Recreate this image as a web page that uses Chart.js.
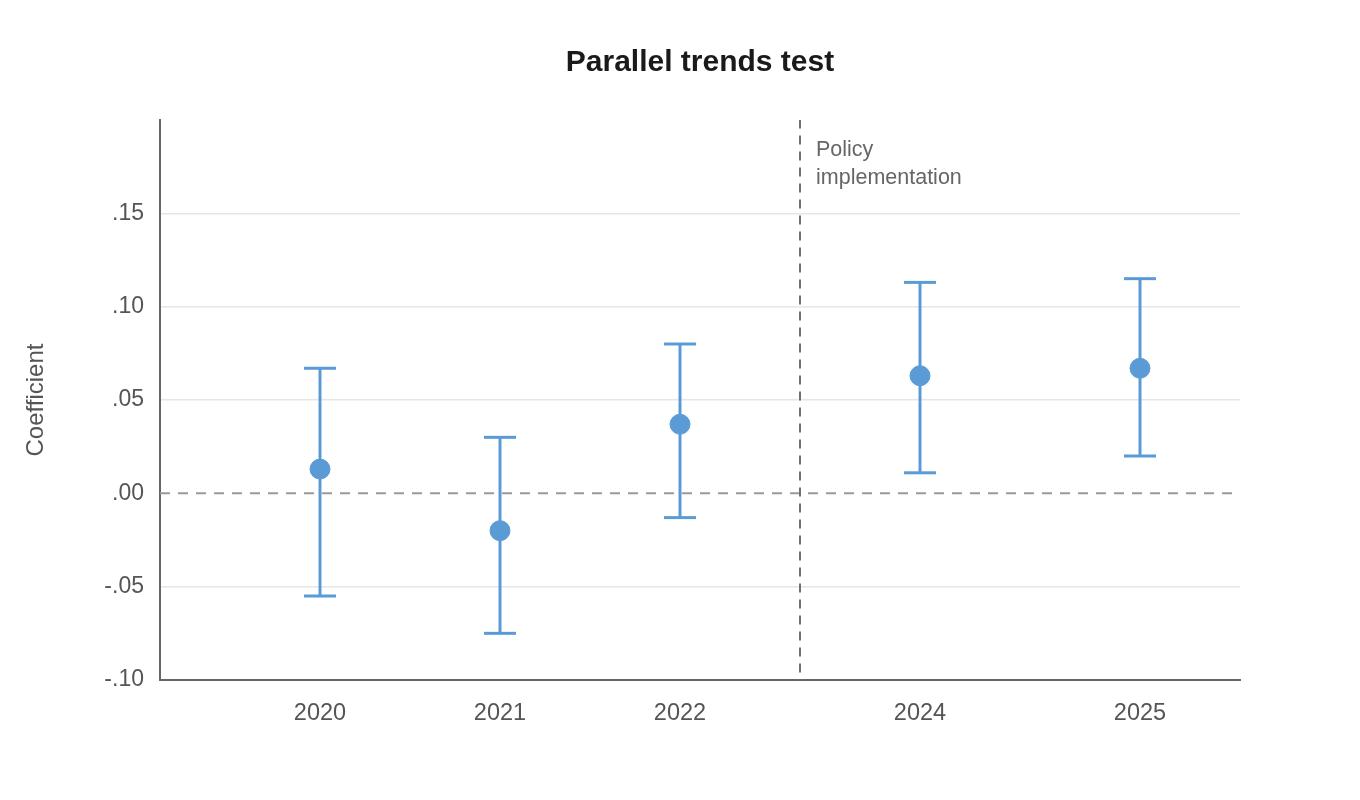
<!DOCTYPE html>
<html>
<head>
<meta charset="utf-8">
<script src="https://cdn.jsdelivr.net/npm/chart.js@4.4.1/dist/chart.umd.min.js"></script>
<style>
  html, body { margin: 0; padding: 0; background: #fff; }
  #wrap { width: 1360px; height: 800px; }
</style>
</head>
<body>
<div id="wrap"><canvas id="chart"></canvas></div>
<script>
// data
const years = ['2020', '2021', '2022', '2024', '2025'];
const yearSlots = [8, 17, 26, 38, 49];   // where each year sits on the x axis
const coef = [0.013, -0.020, 0.037, 0.063, 0.067];
const ciLow = [-0.055, -0.075, -0.013, 0.011, 0.020];
const ciHigh = [0.067, 0.030, 0.080, 0.113, 0.115];
const yTicks = [-0.10, -0.05, 0, 0.05, 0.10, 0.15];
const yTickLabels = ['-.10', '-.05', '.00', '.05', '.10', '.15'];
const policySlot = 32;
const policyLabel = ['Policy', 'implementation'];
const chartTitle = 'Parallel trends test';

const FONT = '"Liberation Sans", Arial, sans-serif';
const BLUE = '#5b9bd5';
const X_MIN = 0, X_MAX = 54, Y_MIN = -0.10, Y_MAX = 0.20;

Chart.defaults.font.family = FONT;
Chart.defaults.color = '#555';

// 제목 + 정책 시행 라벨 (제목은 플롯 영역 가운데 정렬)
const textLayer = {
  id: 'textLayer',
  afterDatasetsDraw(chart) {
    const { ctx, chartArea, scales } = chart;
    ctx.save();
    ctx.font = 'bold 30px ' + FONT;
    ctx.fillStyle = '#1a1a1a';
    ctx.textAlign = 'center';
    ctx.textBaseline = 'middle';
    ctx.fillText(chartTitle, (chartArea.left + chartArea.right) / 2, 63);

    const x = scales.x.getPixelForValue(policySlot) + 16;
    ctx.font = '21.5px ' + FONT;
    ctx.fillStyle = '#666';
    ctx.textAlign = 'left';
    policyLabel.forEach((t, i) => ctx.fillText(t, x, chartArea.top + 30 + i * 28));
    ctx.restore();
  }
};

// one line dataset per confidence interval, caps drawn as 'line' points
const whiskers = years.map((y, i) => ({
  type: 'line',
  data: [{ x: yearSlots[i], y: ciLow[i] }, { x: yearSlots[i], y: ciHigh[i] }],
  borderColor: BLUE,
  borderWidth: 3,
  pointStyle: 'line',
  pointRadius: 16,
  pointHoverRadius: 16,
  pointBorderColor: BLUE,
  pointBorderWidth: 3,
  order: 2
}));

const datasets = [
  {
    type: 'line',
    data: [{ x: X_MIN, y: 0 }, { x: X_MAX - 0.4, y: 0 }],
    borderColor: '#999',
    borderWidth: 2,
    borderDash: [10, 8],
    pointRadius: 0,
    order: 4
  },
  {
    type: 'line',
    data: [{ x: policySlot, y: Y_MIN + 0.004 }, { x: policySlot, y: Y_MAX }],
    borderColor: '#707070',
    borderWidth: 2,
    borderDash: [9, 7],
    pointRadius: 0,
    order: 3
  },
  ...whiskers,
  {
    type: 'scatter',
    data: years.map((y, i) => ({ x: yearSlots[i], y: coef[i] })),
    backgroundColor: BLUE,
    borderColor: BLUE,
    pointRadius: 10,
    pointHoverRadius: 10,
    order: 1
  }
];

new Chart(document.getElementById('chart'), {
  type: 'scatter',
  data: { datasets },
  plugins: [textLayer],
  options: {
    responsive: true,
    maintainAspectRatio: false,
    animation: false,
    layout: { padding: { left: 0, right: 120, top: 120, bottom: 0 } },
    plugins: {
      legend: { display: false },
      tooltip: { enabled: false },
      title: { display: false }
    },
    scales: {
      x: {
        type: 'linear',
        min: X_MIN,
        max: X_MAX,
        afterBuildTicks: s => { s.ticks = yearSlots.map(v => ({ value: v })); },
        afterFit: s => { s.height = 120; },
        grid: { display: false, drawTicks: false },
        border: { display: true, color: '#666', width: 2 },
        ticks: {
          padding: 19,
          color: '#555',
          font: { size: 23.5 },
          callback: v => years[yearSlots.indexOf(v)]
        }
      },
      y: {
        type: 'linear',
        min: Y_MIN,
        max: Y_MAX,
        afterBuildTicks: s => { s.ticks = yTicks.map(v => ({ value: v })); },
        afterFit: s => { s.width = 160; },
        grid: {
          drawTicks: false,
          lineWidth: 1.5,
          color: ctx => (Math.abs(ctx.tick.value) < 1e-9 || ctx.tick.value < -0.099) ? 'rgba(0,0,0,0)' : '#e6e6e6'
        },
        border: { display: true, color: '#666', width: 2 },
        ticks: {
          padding: 16,
          color: '#555',
          font: { size: 23 },
          callback: v => yTickLabels[yTicks.findIndex(t => Math.abs(t - v) < 1e-9)]
        },
        title: {
          display: true,
          text: 'Coefficient',
          color: '#555',
          font: { size: 24 },
          padding: { top: 22, bottom: 0 }
        }
      }
    }
  }
});
</script>
</body>
</html>
